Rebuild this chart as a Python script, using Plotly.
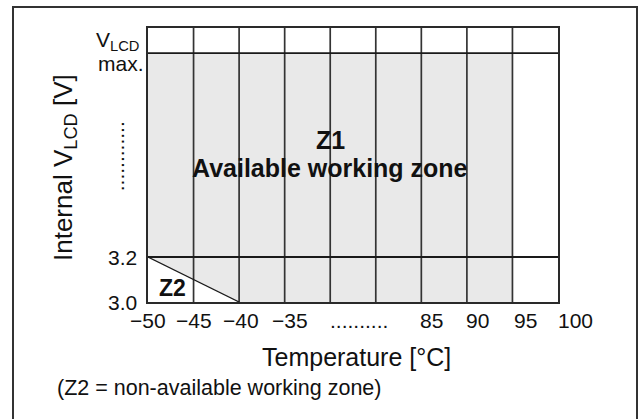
import plotly.graph_objects as go

# ---------------- data ----------------
temp_labels = ["−50", "−45", "−40", "−35", "..........", "85", "90", "95", "100"]
temp_label_pos = [0.0, 1.0, 2.04, 3.11, 4.63, 6.23, 7.24, 8.29, 9.39]   # column-index units
col_lines = [1, 2, 3, 4, 5, 6, 7, 8]          # inner vertical grid lines
n_cols = 9
avail_cols = 8                                # Z1 spans up to the 95 line
v_levels = [0.0, 1.0]                         # 3.0 V, 3.2 V rows
v_labels = ["3.0", "3.2"]
v_max = 5.53                                  # VLCD max row
v_top = 6.09
z2_x = [0, 2]                                 # diagonal boundary of Z2
z2_y = [1, 0]

FONT = "Arial, Liberation Sans, sans-serif"
LINE = "#2a2a2a"
TXT = "#111111"

fig = go.Figure()

# Z1 gray area (excluding triangle Z2)
fig.add_trace(go.Scatter(
    x=[z2_x[0], z2_x[1], avail_cols, avail_cols, 0, z2_x[0]],
    y=[z2_y[0], z2_y[1], 0, v_max, v_max, z2_y[0]],
    fill="toself", fillcolor="#e9e9e9", mode="lines",
    line=dict(width=0), hoverinfo="skip", showlegend=False))

shapes = []
for c in col_lines:
    shapes.append(dict(type="line", xref="x", yref="y", x0=c, x1=c, y0=0, y1=v_top,
                       line=dict(color="#333333", width=1.7)))
for yv in [v_levels[1], v_max]:
    shapes.append(dict(type="line", xref="x", yref="y", x0=0, x1=n_cols, y0=yv, y1=yv,
                       line=dict(color="#1a1a1a", width=1.8)))
shapes.append(dict(type="line", xref="x", yref="y", x0=z2_x[0], y0=z2_y[0], x1=z2_x[1], y1=z2_y[1],
                   line=dict(color="#1a1a1a", width=1.3)))
# outer frame of the figure
shapes.append(dict(type="rect", xref="paper", yref="paper",
                   x0=(13 - 148) / 410, x1=(637 - 148) / 410,
                   y0=(302 - 430) / 274, y1=(302 - 7) / 274,
                   line=dict(color="#333333", width=2), fillcolor="rgba(0,0,0,0)"))

ann = []
for lab, pos in zip(temp_labels, temp_label_pos):
    ann.append(dict(x=pos / n_cols, y=0, xref="paper", yref="paper", text=lab, showarrow=False,
                    xanchor="center", yanchor="middle", yshift=-18,
                    font=dict(family=FONT, size=21, color=TXT)))
for lab, yv in zip(v_labels, v_levels):
    ann.append(dict(x=0, y=yv, xref="paper", yref="y", text=lab, showarrow=False,
                    xanchor="right", yanchor="middle", xshift=-9,
                    font=dict(family=FONT, size=21, color=TXT)))
ann.append(dict(x=0, y=v_max, xref="paper", yref="y", text="V<sub>LCD</sub>", showarrow=False,
                xanchor="right", yanchor="middle", xshift=-7, yshift=12,
                font=dict(family=FONT, size=21, color=TXT)))
ann.append(dict(x=0, y=v_max, xref="paper", yref="y", text="max.", showarrow=False,
                xanchor="right", yanchor="middle", xshift=-2, yshift=-10,
                font=dict(family=FONT, size=21, color=TXT)))
ann.append(dict(x=0, y=3.24, xref="paper", yref="y", text="............", showarrow=False,
                textangle=-90, xanchor="center", yanchor="middle", xshift=-32,
                font=dict(family=FONT, size=21, color=TXT)))
ann.append(dict(x=(64 - 148) / 410, y=(302 - 168) / 274, xref="paper", yref="paper",
                text="Internal V<sub>LCD</sub> [V]", showarrow=False, textangle=-90,
                xanchor="center", yanchor="middle",
                font=dict(family=FONT, size=26, color=TXT)))
ann.append(dict(x=(356 - 148) / 410, y=(302 - 357) / 274, xref="paper", yref="paper",
                text="Temperature [°C]", showarrow=False, xanchor="center", yanchor="middle",
                font=dict(family=FONT, size=25, color=TXT)))
ann.append(dict(x=(55 - 148) / 410, y=(302 - 388) / 274, xref="paper", yref="paper",
                text="(Z2 = non-available working zone)", showarrow=False,
                xanchor="left", yanchor="middle",
                font=dict(family=FONT, size=21.5, color=TXT)))
ann.append(dict(x=4, y=3.6, xref="x", yref="y", text="<b>Z1</b>", showarrow=False,
                xanchor="center", yanchor="middle",
                font=dict(family=FONT, size=25, color=TXT)))
ann.append(dict(x=4, y=2.98, xref="x", yref="y", text="<b>Available working zone</b>", showarrow=False,
                xanchor="center", yanchor="middle",
                font=dict(family=FONT, size=25, color=TXT)))
ann.append(dict(x=0.53, y=0.31, xref="x", yref="y", text="<b>Z2</b>", showarrow=False,
                xanchor="center", yanchor="middle",
                font=dict(family=FONT, size=23, color=TXT)))

fig.update_layout(
    width=641, height=419,
    margin=dict(l=148, r=83, t=28, b=117),
    paper_bgcolor="white", plot_bgcolor="white",
    shapes=shapes, annotations=ann, showlegend=False,
    xaxis=dict(range=[0, n_cols], showgrid=False, zeroline=False, showticklabels=False,
               ticks="", showline=True, mirror=True, linecolor=LINE, linewidth=2, fixedrange=True),
    yaxis=dict(range=[0, v_top], showgrid=False, zeroline=False, showticklabels=False,
               ticks="", showline=True, mirror=True, linecolor=LINE, linewidth=2, fixedrange=True),
)

fig.write_html("out.html", config={"displayModeBar": False},
               post_script="document.body.style.margin='0';document.body.style.overflow='hidden';")
